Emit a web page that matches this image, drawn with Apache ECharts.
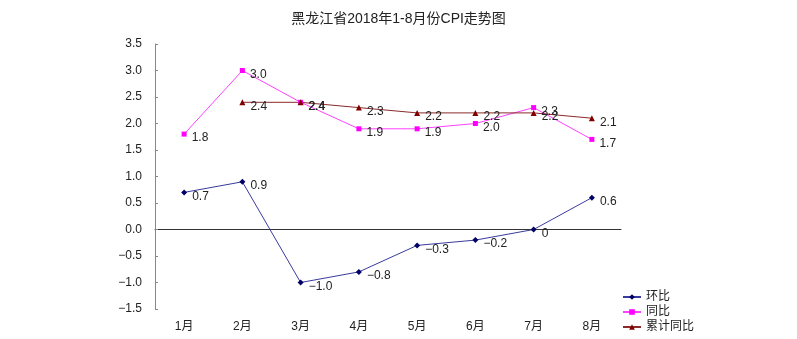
<!DOCTYPE html>
<html><head><meta charset="utf-8">
<script src="https://cdn.jsdelivr.net/npm/echarts@6/dist/echarts.min.js"></script>
<style>html,body{margin:0;padding:0;background:#fff}#c{width:797px;height:339px}</style>
</head><body><div id="c"></div>
<script>
const title = '黑龙江省2018年1-8月份CPI走势图';
const categories = ['1月','2月','3月','4月','5月','6月','7月','8月'];
const huanbi = [0.7, 0.9, -1.0, -0.8, -0.3, -0.2, 0, 0.6];
const tongbi = [1.8, 3.0, 2.4, 1.9, 1.9, 2.0, 2.3, 1.7];
const leiji = [null, 2.4, 2.4, 2.3, 2.2, 2.2, 2.2, 2.1];
const seriesNames = ['环比','同比','累计同比'];

const FONT = '"Liberation Sans", "Noto Sans CJK SC", sans-serif';
function fmt(v){ if (v === 0) return '0'; return v.toFixed(1).replace('-', '\u2212'); }
function fmtAxis(v){ const r = Math.round(v*10)/10; return (r === 0 ? '0.0' : r.toFixed(1).replace('-', '\u2212')); }
const labelCfg = { show:true, position:'right', offset:[0,4], color:'#222', fontSize:12, fontFamily:FONT,
  formatter: p => fmt(p.value) };

const chart = echarts.init(document.getElementById('c'));
chart.setOption({
  animation:false,
  title:{ text:title, left:'center', top:7, textStyle:{ fontSize:14, fontWeight:'normal', color:'#222', fontFamily:FONT } },
  grid:{ left:155, right:176, top:44, bottom:30 },
  legend:{ orient:'vertical', left:617, top:286, itemWidth:18, itemHeight:7, itemGap:3,
    textStyle:{ fontSize:12, color:'#222', fontFamily:FONT }, data:seriesNames },
  xAxis:[
    { type:'category', data:categories, position:'bottom', axisLine:{ onZero:true, lineStyle:{ color:'#333', width:1 } },
      axisTick:{ inside:true, length:3, lineStyle:{ color:'#333' } }, axisLabel:{ show:false } },
    { type:'category', data:categories, position:'bottom', axisLine:{ show:false, onZero:false }, axisTick:{ show:false },
      axisLabel:{ margin:12, color:'#222', fontSize:12, fontFamily:FONT } }
  ],
  yAxis:{ type:'value', min:-1.5, max:3.5, interval:0.5,
    axisLine:{ show:true, onZero:false, lineStyle:{ color:'#888' } },
    axisTick:{ show:true, inside:true, length:3, lineStyle:{ color:'#888' } },
    splitLine:{ show:false },
    axisLabel:{ formatter: fmtAxis, margin:13, color:'#222', fontSize:12, fontFamily:FONT } },
  series:[
    { name:seriesNames[0], type:'line', data:huanbi, symbol:'diamond', symbolSize:6,
      itemStyle:{ color:'#000066' }, lineStyle:{ color:'#3a3a9e', width:1 }, label:labelCfg },
    { name:seriesNames[1], type:'line', data:tongbi, symbol:'rect', symbolSize:5,
      itemStyle:{ color:'#ff00ff' }, lineStyle:{ color:'#ff40ff', width:1 }, label:labelCfg },
    { name:seriesNames[2], type:'line', data:leiji, symbol:'triangle', symbolSize:6,
      itemStyle:{ color:'#800000' }, lineStyle:{ color:'#8a2a2a', width:1 }, label:labelCfg }
  ]
});
</script></body></html>
